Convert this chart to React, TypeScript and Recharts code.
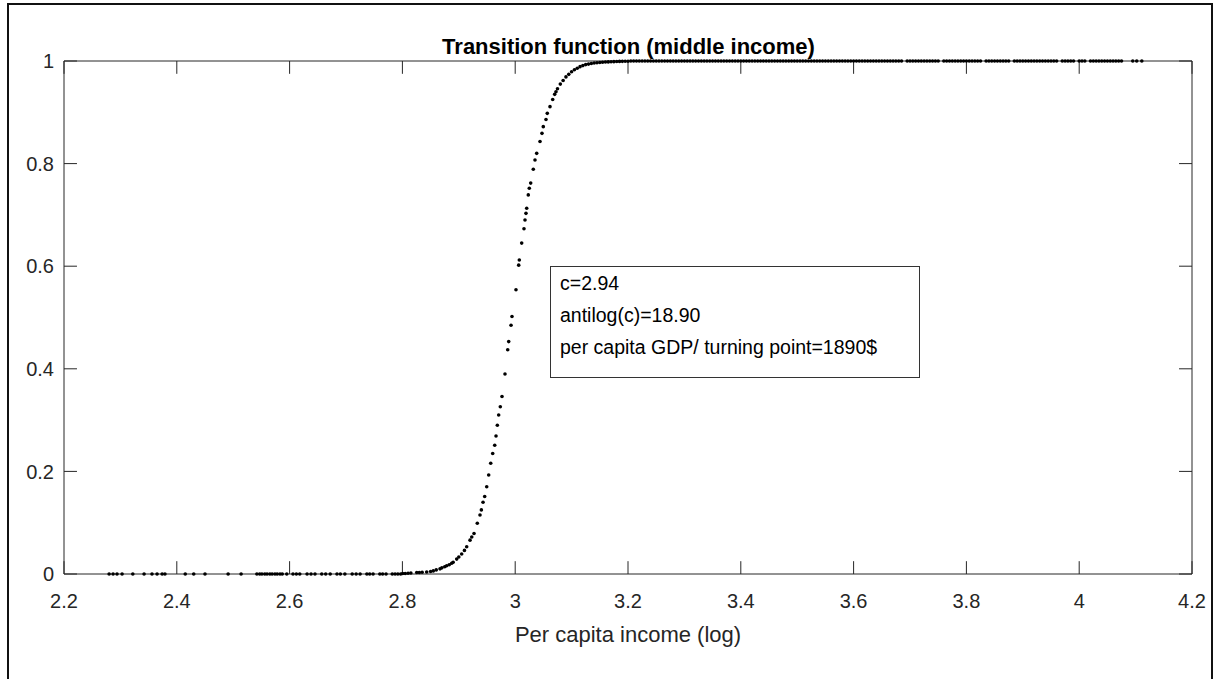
import { ScatterChart, Scatter, XAxis, YAxis, ReferenceLine } from "recharts";

// sparse points on the floor (y ~ 0)
const lowX = [
  2.28, 2.287, 2.294, 2.303, 2.322, 2.342, 2.356, 2.365, 2.374, 2.379, 2.415, 2.43, 2.45,
  2.491, 2.514, 2.542, 2.547, 2.551, 2.556, 2.56, 2.565, 2.569, 2.574, 2.578, 2.583, 2.587,
  2.595, 2.606, 2.612, 2.618, 2.631, 2.638, 2.645, 2.657, 2.664, 2.672, 2.684, 2.69, 2.698,
  2.711, 2.718, 2.725, 2.737, 2.742, 2.748, 2.76, 2.765, 2.771, 2.782, 2.787, 2.792, 2.797,
];

// the rising part of the curve
const riseX = [
  2.8005, 2.805, 2.81, 2.815, 2.8254, 2.83, 2.835, 2.8431, 2.85, 2.8548, 2.86, 2.8667, 2.87,
  2.875, 2.8785, 2.883, 2.8874, 2.89, 2.8963, 2.9, 2.9051, 2.91, 2.914, 2.9199, 2.923, 2.927,
  2.9328, 2.9376, 2.94, 2.943, 2.9459, 2.9495, 2.953, 2.9566, 2.9601, 2.9637, 2.966, 2.9683,
  2.9707, 2.9736, 2.9766, 2.9819, 2.9867, 2.9885, 2.9926, 2.9943, 3.0014, 3.0062, 3.0073,
  3.0115, 3.0156, 3.0174, 3.0191, 3.0204, 3.0232, 3.025, 3.0275, 3.0321, 3.0351, 3.0381,
  3.044, 3.0475, 3.0498, 3.0546, 3.0569, 3.0617, 3.0665, 3.07, 3.0723, 3.075, 3.08, 3.085,
  3.09, 3.095, 3.1, 3.105, 3.11, 3.115, 3.12, 3.125, 3.13, 3.135, 3.14, 3.145, 3.15, 3.155,
  3.16, 3.165, 3.17, 3.175, 3.18, 3.185, 3.19, 3.195, 3.2,
];
const riseY = [
  0.001, 0.001, 0.0015, 0.002, 0.003, 0.003, 0.0035, 0.004, 0.005, 0.006, 0.008, 0.01, 0.012,
  0.014, 0.016, 0.018, 0.021, 0.023, 0.029, 0.033, 0.039, 0.046, 0.053, 0.066, 0.072, 0.079,
  0.099, 0.115, 0.125, 0.14, 0.151, 0.17, 0.193, 0.216, 0.235, 0.251, 0.269, 0.29,
  0.31, 0.326, 0.346, 0.39, 0.437, 0.453, 0.485, 0.502, 0.554, 0.602, 0.612,
  0.645, 0.673, 0.69, 0.703, 0.713, 0.739, 0.752, 0.762, 0.789, 0.807, 0.82,
  0.843, 0.859, 0.872, 0.886, 0.898, 0.911, 0.925, 0.935, 0.94, 0.946, 0.955, 0.962,
  0.969, 0.974, 0.979, 0.983, 0.986, 0.989, 0.991, 0.993, 0.994, 0.995, 0.996, 0.9965, 0.997, 0.9975,
  0.998, 0.9982, 0.9985, 0.9987, 0.999, 0.9992, 0.9993, 0.9994, 0.9995,
];

// dense points on the ceiling (y ~ 1)
const topX = [
  3.205, 3.21, 3.215, 3.22, 3.225, 3.23, 3.235, 3.24, 3.245, 3.25, 3.255, 3.26, 3.265, 3.27,
  3.275, 3.28, 3.285, 3.29, 3.295, 3.3, 3.305, 3.31, 3.315, 3.32, 3.325, 3.33, 3.335, 3.34,
  3.345, 3.35, 3.355, 3.36, 3.365, 3.37, 3.375, 3.38, 3.385, 3.39, 3.395, 3.4, 3.405, 3.41,
  3.415, 3.42, 3.425, 3.43, 3.435, 3.44, 3.445, 3.45, 3.455, 3.46, 3.465, 3.47, 3.475, 3.48,
  3.485, 3.49, 3.495, 3.5, 3.505, 3.51, 3.515, 3.52, 3.525, 3.53, 3.535, 3.54, 3.545, 3.55,
  3.555, 3.56, 3.565, 3.57, 3.575, 3.58, 3.585, 3.59, 3.595, 3.6, 3.605, 3.61, 3.615, 3.62,
  3.625, 3.63, 3.635, 3.64, 3.645, 3.65, 3.655, 3.66, 3.665, 3.67, 3.675, 3.68, 3.685, 3.695,
  3.7, 3.705, 3.71, 3.715, 3.72, 3.725, 3.73, 3.735, 3.74, 3.745, 3.75, 3.76, 3.765, 3.77,
  3.775, 3.78, 3.785, 3.79, 3.795, 3.8, 3.805, 3.81, 3.815, 3.82, 3.825, 3.835, 3.84, 3.845,
  3.85, 3.855, 3.86, 3.865, 3.87, 3.875, 3.885, 3.89, 3.895, 3.9, 3.905, 3.91, 3.915, 3.92,
  3.925, 3.93, 3.935, 3.94, 3.945, 3.95, 3.955, 3.96, 3.97, 3.975, 3.98, 3.985, 3.99, 4.0,
  4.005, 4.01, 4.02, 4.025, 4.03, 4.035, 4.04, 4.045, 4.05, 4.055, 4.06, 4.065, 4.07, 4.075,
  4.095, 4.102, 4.111,
];

const xTicks = [2.2, 2.4, 2.6, 2.8, 3, 3.2, 3.4, 3.6, 3.8, 4, 4.2];
const yTicks = [0, 0.2, 0.4, 0.6, 0.8, 1];
const xMin = 2.2;
const xMax = 4.2;

const noteLines = ["c=2.94", "antilog(c)=18.90", "per capita GDP/ turning point=1890$"];

const data = [
  ...lowX.map((x) => ({ x, y: 0 })),
  ...riseX.map((x, i) => ({ x, y: riseY[i] })),
  ...topX.map((x) => ({ x, y: 1 })),
];

const ink = "#262626";
const font = "'Liberation Sans', Arial, Helvetica, sans-serif";
// inward tick length, in axis units (about 13px)
const xTickLen = 0.025;
const yTickLen = 0.023;

const Dot = (props: any) => <circle cx={props.cx} cy={props.cy} r={1.8} fill="#000" />;

export default function App() {
  return (
    <div style={{ position: "absolute", left: 0, top: 0, width: 1215, height: 679, background: "#fff", overflow: "hidden", fontFamily: font }}>
      <div
        style={{
          position: "absolute",
          left: 7,
          top: 3,
          width: 1206,
          height: 700,
          border: "2px solid #111",
          boxSizing: "border-box",
        }}
      />
      <div style={{ position: "absolute", left: 0, top: 0 }}>
        <ScatterChart width={1215} height={679} margin={{ top: 61, right: 23, bottom: 30, left: 0 }}>
          <XAxis
            type="number"
            dataKey="x"
            domain={[xMin, xMax]}
            ticks={xTicks}
            tickLine={false}
            tickSize={0}
            tickMargin={20}
            height={75}
            stroke={ink}
            tick={{ fill: ink, fontSize: 20, fontFamily: font }}
            label={{ value: "Per capita income (log)", position: "insideBottom", offset: 7, fill: ink, fontSize: 22, fontFamily: font }}
          />
          <YAxis
            type="number"
            dataKey="y"
            domain={[0, 1]}
            ticks={yTicks}
            tickLine={false}
            tickSize={0}
            tickMargin={10}
            width={64}
            stroke={ink}
            tick={{ fill: ink, fontSize: 20, fontFamily: font }}
          />
          {/* box frame: top and right edges */}
          <ReferenceLine y={1} stroke={ink} ifOverflow="visible" />
          <ReferenceLine x={xMax} stroke={ink} ifOverflow="visible" />
          {/* inward ticks on all four sides */}
          {xTicks.map((t) => (
            <ReferenceLine key={"xb" + t} segment={[{ x: t, y: 0 }, { x: t, y: xTickLen }]} stroke={ink} ifOverflow="visible" />
          ))}
          {xTicks.map((t) => (
            <ReferenceLine key={"xt" + t} segment={[{ x: t, y: 1 }, { x: t, y: 1 - xTickLen }]} stroke={ink} ifOverflow="visible" />
          ))}
          {yTicks.map((t) => (
            <ReferenceLine key={"yl" + t} segment={[{ x: xMin, y: t }, { x: xMin + yTickLen, y: t }]} stroke={ink} ifOverflow="visible" />
          ))}
          {yTicks.map((t) => (
            <ReferenceLine key={"yr" + t} segment={[{ x: xMax, y: t }, { x: xMax - yTickLen, y: t }]} stroke={ink} ifOverflow="visible" />
          ))}
          <Scatter data={data} shape={Dot} isAnimationActive={false} />
        </ScatterChart>
      </div>
      <div
        style={{
          position: "absolute",
          left: 0,
          width: 1257,
          top: 34,
          textAlign: "center",
          fontWeight: "bold",
          fontSize: 22,
          lineHeight: "26px",
          color: "#000",
        }}
      >
        Transition function (middle income)
      </div>
      <div
        style={{
          position: "absolute",
          left: 550,
          top: 266,
          width: 370,
          height: 112,
          border: "1px solid #333",
          boxSizing: "border-box",
          background: "#fff",
          padding: "0 0 0 9px",
          color: "#000",
          fontSize: 19.5,
          lineHeight: "32px",
        }}
      >
        {noteLines.map((t) => (
          <div key={t}>{t}</div>
        ))}
      </div>
    </div>
  );
}
